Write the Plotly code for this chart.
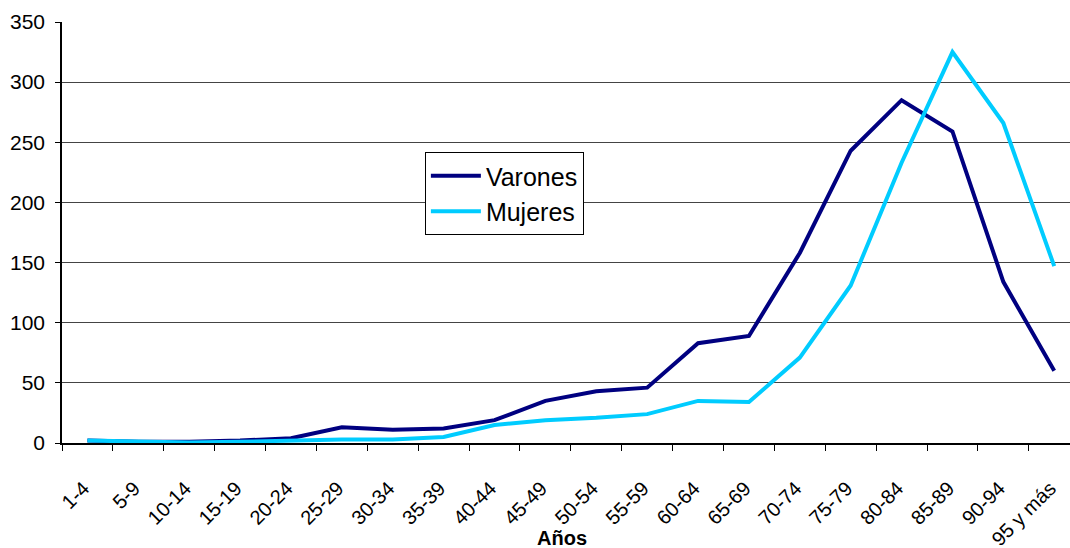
import plotly.graph_objects as go

categories = ["1-4", "5-9", "10-14", "15-19", "20-24", "25-29", "30-34", "35-39",
              "40-44", "45-49", "50-54", "55-59", "60-64", "65-69", "70-74", "75-79",
              "80-84", "85-89", "90-94", "95 y más"]
varones = [2, 1, 1, 2, 4, 13, 11, 12, 19, 35, 43, 46, 83, 89, 158, 243, 285, 259, 134, 60]
mujeres = [2, 1, 0.5, 1, 2, 3, 3, 5, 15, 19, 21, 24, 35, 34, 71, 131, 233, 325, 266, 147]
y_ticks = [0, 50, 100, 150, 200, 250, 300, 350]

FONT = "Liberation Sans, Arial, sans-serif"

fig = go.Figure()
fig.add_trace(go.Scatter(x=categories, y=varones, mode="lines", name="Varones",
                         line=dict(color="#000080", width=4)))
fig.add_trace(go.Scatter(x=categories, y=mujeres, mode="lines", name="Mujeres",
                         line=dict(color="#00CCFF", width=4)))

fig.update_layout(
    width=1070, height=548,
    margin=dict(l=62, r=0, t=22, b=105, autoexpand=False),
    paper_bgcolor="white", plot_bgcolor="white",
    font=dict(family=FONT, color="black", size=21),
    showlegend=True,
    legend=dict(x=0.36, y=0.691, xanchor="left", yanchor="top",
                bgcolor="white", bordercolor="black", borderwidth=1,
                font=dict(size=25, family=FONT), tracegroupgap=0,
                itemwidth=50),
    xaxis=dict(type="category", range=[-0.5, 19.31], automargin=False,
               showline=True, linecolor="black", linewidth=1.5,
               ticks="outside", ticklen=6, tickcolor="black", tickson="boundaries",
               tickangle=-45, tickfont=dict(size=20), showgrid=False,
               ticklabelstandoff=24, ticklabelshift=-4),
    yaxis=dict(range=[0, 350], tickvals=y_ticks, automargin=False,
               showline=True, linecolor="black", linewidth=1.5,
               ticks="outside", ticklen=5, tickcolor="black",
               showgrid=True, gridcolor="#444", gridwidth=1,
               zeroline=False, tickfont=dict(size=21), ticklabelstandoff=6),
    annotations=[dict(text="<b>Años</b>", x=0.496, y=-0.2257, xref="paper", yref="paper",
                      xanchor="center", yanchor="middle", showarrow=False,
                      font=dict(size=20, family=FONT))],
)

fig.write_html("out.html", config={"displayModeBar": False},
               post_script="document.body.style.margin='0px';")
